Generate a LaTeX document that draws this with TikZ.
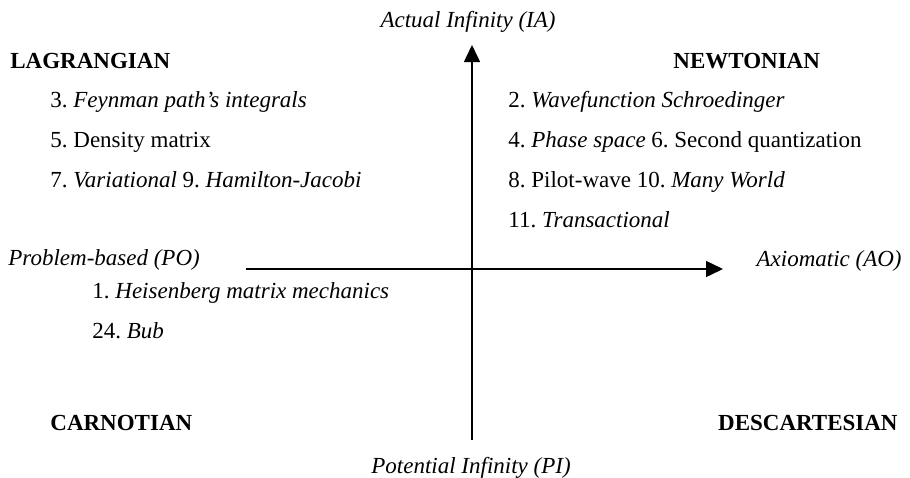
\documentclass[tikz,border=0pt]{standalone}
\usepackage{fontspec}
\setmainfont{Liberation Serif}
\usetikzlibrary{positioning,arrows.meta}

\begin{document}
\frenchspacing
\begin{tikzpicture}[
  x=0.5pt, y=-0.5pt,
  font=\fontsize{11.5}{14}\selectfont,
  every node/.style={inner sep=0pt},
  school/.style={font=\fontsize{11.5}{14}\selectfont\bfseries},
  axislabel/.style={font=\fontsize{11.5}{14}\selectfont\itshape},
  entry/.style={anchor=base west},
  nextentry/.style={below=20pt of #1.base west, anchor=base west},
  axis/.style={line width=0.75pt, -{Triangle[length=8.5pt, width=8pt]}},
  ]
  \useasboundingbox (0,0) rectangle (910,477);

  % The two axes.
  \coordinate (pi) at (472,440);
  \coordinate (ia) at (472,45);
  \coordinate (po) at (246,269);
  \coordinate (ao) at (723,269);
  \draw[axis] (pi) -- (ia);
  \draw[axis] (po) -- (ao);

  % Axis labels.
  \node[axislabel, anchor=base] (ialab) at (468,27) {Actual Infinity (IA)};
  \node[axislabel, anchor=base] (pilab) at (471,473) {Potential Infinity (PI)};
  \node[axislabel, anchor=base west] (polab) at (8,265) {Problem-based (PO)};
  \node[axislabel, anchor=base east] (aolab) at (902,266) {Axiomatic (AO)};

  % Quadrant names.
  \node[school, anchor=base west] (lag) at (10,68) {LAGRANGIAN};
  \node[school, anchor=base west] (newt) at (673,68) {NEWTONIAN};
  \node[school, anchor=base west] (carn) at (50,430) {CARNOTIAN};
  \node[school, anchor=base east] (desc) at (898,430) {DESCARTESIAN};

  % Lagrangian formulations.
  \node[entry] (f3) at (50,107) {3. \textit{Feynman path's integrals}};
  \node[nextentry=f3] (f5) {5. Density matrix};
  \node[nextentry=f5] (f7) {7. \textit{Variational} 9. \textit{Hamilton-Jacobi}};

  % Newtonian formulations.
  \node[entry] (f2) at (508,107) {2. \textit{Wavefunction Schroedinger}};
  \node[nextentry=f2] (f4) {4. \textit{Phase space} 6. Second quantization};
  \node[nextentry=f4] (f8) {8. Pilot-wave 10. \textit{Many World}};
  \node[nextentry=f8] (f11) {11. \textit{Transactional}};

  % Carnotian formulations.
  \node[entry] (f1) at (92,298) {1. \textit{Heisenberg matrix mechanics}};
  \node[nextentry=f1] (f24) {24. \textit{Bub}};
\end{tikzpicture}
\end{document}
